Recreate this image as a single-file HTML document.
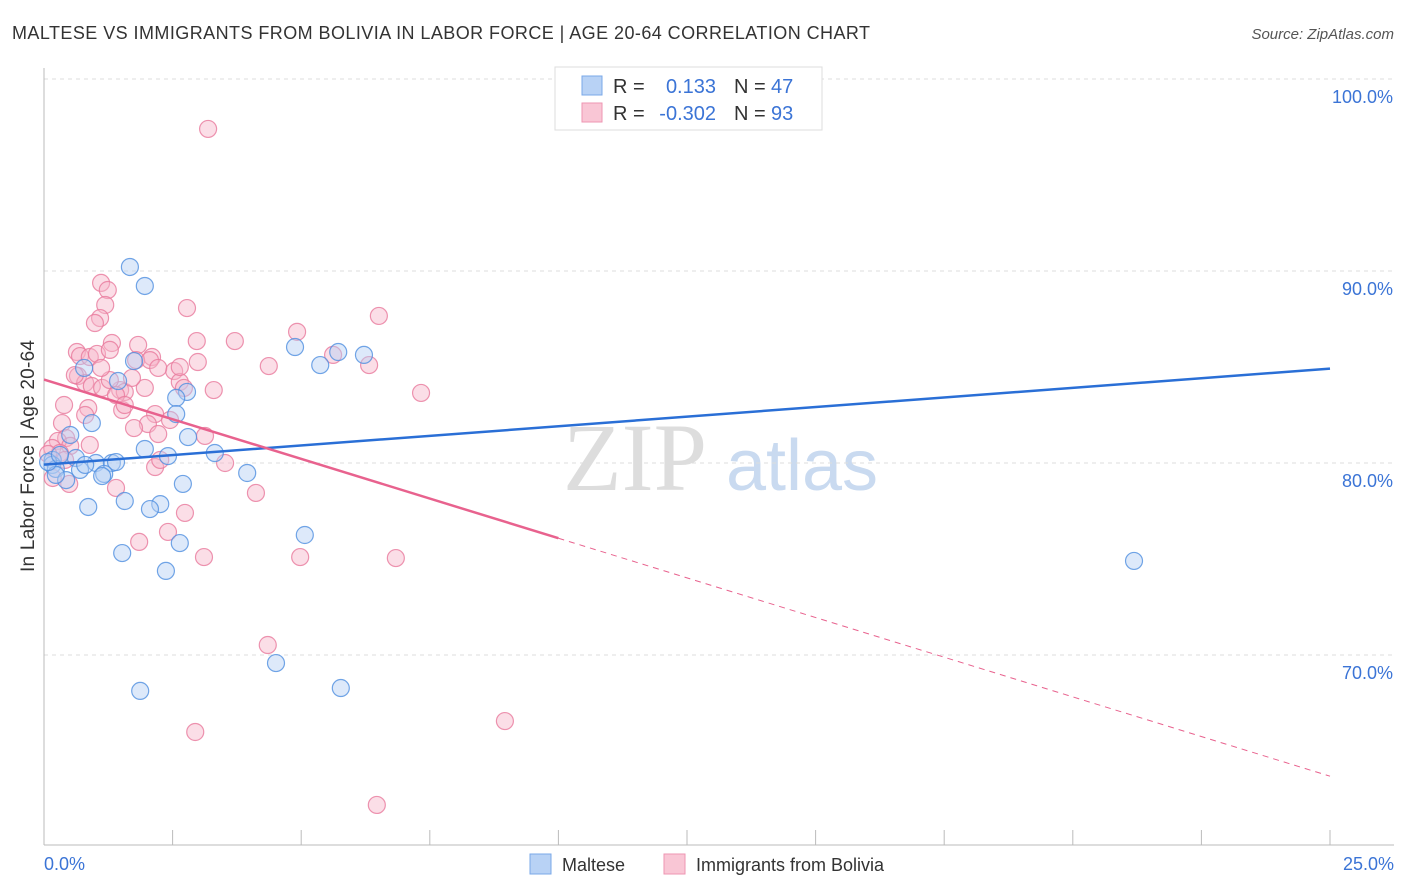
<!DOCTYPE html>
<html><head><meta charset="utf-8">
<style>
body{margin:0;background:#fff;font-family:"Liberation Sans",sans-serif;}
svg{display:block}
</style></head>
<body>
<svg id="chart" width="1406" height="892">
<text x="12" y="39" font-size="18" fill="#333" textLength="858" lengthAdjust="spacing">MALTESE VS IMMIGRANTS FROM BOLIVIA IN LABOR FORCE | AGE 20-64 CORRELATION CHART</text>
<text x="1394" y="39" font-size="15" fill="#555" font-style="italic" text-anchor="end">Source: ZipAtlas.com</text>
<g>
<text x="635" y="490" font-size="96" font-family="Liberation Serif,serif" fill="#ddd" text-anchor="middle">ZIP</text>
<text x="802" y="490" font-size="72" fill="#c9daf0" text-anchor="middle">atlas</text>
</g>
<g id="grid"></g>
<g id="axes"></g>
<g id="points"></g>
<g id="trends"></g>
<text transform="translate(34,456) rotate(-90)" font-size="19" fill="#333" text-anchor="middle" textLength="232">In Labor Force | Age 20-64</text>
<g>
<rect x="555" y="67" width="267" height="63" fill="#fff" stroke="#ddd"/>
<rect x="582" y="76" width="20" height="19" fill="#b8d2f5" stroke="#7aa8e8"/>
<rect x="582" y="103" width="20" height="19" fill="#f9c6d5" stroke="#ee95b2"/>
<text x="613" y="93" font-size="20" fill="#333">R =</text>
<text x="716" y="93" font-size="20" fill="#3b74d6" text-anchor="end">0.133</text>
<text x="734" y="93" font-size="20" fill="#333">N =</text>
<text x="771" y="93" font-size="20" fill="#3b74d6">47</text>
<text x="613" y="120" font-size="20" fill="#333">R =</text>
<text x="716" y="120" font-size="20" fill="#3b74d6" text-anchor="end">-0.302</text>
<text x="734" y="120" font-size="20" fill="#333">N =</text>
<text x="771" y="120" font-size="20" fill="#3b74d6">93</text>
</g>
<g>
<rect x="530" y="854" width="21" height="20" fill="#b8d2f5" stroke="#7aa8e8"/>
<text x="562" y="871" font-size="18" fill="#333">Maltese</text>
<rect x="664" y="854" width="21" height="20" fill="#f9c6d5" stroke="#ee95b2"/>
<text x="696" y="871" font-size="18" fill="#333">Immigrants from Bolivia</text>
</g>
</svg>
<script>
const yTicks=[100,90,80,70];
const yTickLabels=["100.0%","90.0%","80.0%","70.0%"];
const xEndLabels=["0.0%","25.0%"];
const blueX=[1.67,1.96,4.88,5.37,5.72,6.22,0.78,1.44,1.75,2.78,2.57,2.57,0.93,2.80,0.51,3.32,2.41,1.96,0.62,1.01,1.32,1.40,0.70,1.17,1.13,0.17,0.16,0.23,0.43,3.95,2.70,1.57,0.86,2.26,2.06,2.64,5.07,1.52,2.37,4.51,1.87,5.77,21.19,0.23,0.08,0.31,0.80,14.31];
const blueY=[90.21,89.22,86.04,85.10,85.78,85.63,84.95,84.27,85.31,83.70,83.39,82.55,82.08,81.35,81.46,80.52,80.36,80.73,80.26,80.00,80.00,80.05,79.64,79.43,79.32,80.16,79.90,79.69,79.11,79.48,78.91,78.02,77.71,77.86,77.60,75.83,76.25,75.31,74.38,69.58,68.13,68.28,74.90,79.38,80.05,80.42,79.90,100.06];
const pinkX=[3.19,1.11,1.24,1.19,1.09,0.99,2.78,6.51,4.92,2.97,3.71,1.32,1.83,0.64,0.70,0.89,1.03,1.28,2.10,1.79,2.06,2.99,4.37,6.32,5.62,2.53,2.64,0.66,0.80,0.93,1.13,1.48,1.57,1.96,1.71,3.30,7.33,1.28,1.40,0.39,0.86,1.52,0.80,0.35,2.16,2.45,2.02,1.75,2.22,3.13,0.43,0.27,0.51,0.16,0.31,0.08,3.52,2.16,2.26,0.17,0.49,1.40,4.12,2.74,2.41,1.85,3.11,4.98,6.84,4.35,2.94,8.96,6.47,1.57,0.89,0.41,2.64,2.72,2.22,1.11,0.60];
const pinkY=[97.40,89.38,89.01,88.23,87.55,87.29,88.07,87.66,86.83,86.35,86.35,86.25,86.15,85.78,85.57,85.52,85.68,85.89,85.52,85.36,85.36,85.26,85.05,85.10,85.63,84.79,84.22,84.53,84.17,84.01,83.91,83.80,83.70,83.91,84.43,83.80,83.65,84.32,83.54,83.02,82.86,82.76,82.50,82.08,82.55,82.24,82.03,81.82,81.51,81.41,81.30,81.15,80.89,80.78,80.52,80.47,80.00,79.79,80.16,79.22,78.91,78.70,78.44,77.40,76.41,75.89,75.10,75.10,75.05,70.52,65.99,66.56,62.19,83.02,80.94,80.16,85.00,83.91,84.95,84.95,84.58];

const NS="http://www.w3.org/2000/svg";
const X0=44,X1=1330;
const sx=v=>X0+(v/25)*(X1-X0);
const sy=v=>79+(100-v)*19.2;
function mk(tag,attrs,parent){const e=document.createElementNS(NS,tag);for(const k in attrs)e.setAttribute(k,attrs[k]);parent.appendChild(e);return e;}
const grid=document.getElementById('grid'),axes=document.getElementById('axes');
yTicks.forEach((t,i)=>{
  const l=mk('line',{x1:X0,x2:1394,y1:sy(t),y2:sy(t),stroke:'#ddd','stroke-dasharray':'4 4'},grid);
  
  
  const tx=mk('text',{x:1393,y:sy(t)+24,'font-size':18,fill:'#3b74d6','text-anchor':'end'},axes);
  tx.textContent=yTickLabels[i];
  
  
});
const ya=mk('line',{x1:X0,x2:X0,y1:68,y2:845,stroke:'#bbb'},axes);


const xa=mk('line',{x1:X0,x2:1394,y1:845,y2:845,stroke:'#bbb'},axes);


for(let i=0;i<=10;i++){const xx=sx(i*2.5);const tk=mk('line',{x1:xx,x2:xx,y1:830,y2:845,stroke:'#bbb'},axes);
  
  }
[[0,'start',44],[25,'end',1394]].forEach((d,i)=>{const t=mk('text',{x:d[2],y:870,'font-size':18,fill:'#3b74d6','text-anchor':d[1]},axes);t.textContent=xEndLabels[i];
  
  });
const pts=document.getElementById('points');
function drawPts(xs,ys,fill,stroke,name){xs.forEach((x,i)=>{const c=mk('circle',{cx:sx(x),cy:sy(ys[i]),r:8.5,fill:fill,'fill-opacity':0.45,stroke:stroke,'stroke-width':1.2,'stroke-opacity':0.8},pts);
  
  });}
drawPts(pinkX,pinkY,'#f7b6c9','#e9799c','bolivia-point');
drawPts(blueX,blueY,'#b3cff3','#4f8ee0','maltese-point');
function reg(xs,ys){const n=xs.length;let mx=0,my=0;xs.forEach((x,i)=>{mx+=x;my+=ys[i];});mx/=n;my/=n;let sxy=0,sxx=0;xs.forEach((x,i)=>{sxy+=(x-mx)*(ys[i]-my);sxx+=(x-mx)*(x-mx);});const b=sxy/sxx;return [my-b*mx,b];}
const tr=document.getElementById('trends');
const [ba,bb]=reg(blueX,blueY);
const bl=mk('line',{x1:sx(0),y1:sy(ba),x2:sx(25),y2:sy(ba+bb*25),stroke:'#2a6fd6','stroke-width':2.5},tr);


let [pa,pb]=reg(pinkX,pinkY);
const pmx=pinkX.reduce((a,b)=>a+b,0)/pinkX.length, pmy=pinkY.reduce((a,b)=>a+b,0)/pinkY.length;
pb=pb*0.92; pa=pmy-pb*pmx;
const pl=mk('line',{x1:sx(0),y1:sy(pa),x2:sx(10),y2:sy(pa+pb*10),stroke:'#e8628e','stroke-width':2.5},tr);


const pd=mk('line',{x1:sx(10),y1:sy(pa+pb*10),x2:sx(25),y2:sy(pa+pb*25),stroke:'#e8628e','stroke-width':1,'stroke-dasharray':'6 5'},tr);


</script>
</body></html>
